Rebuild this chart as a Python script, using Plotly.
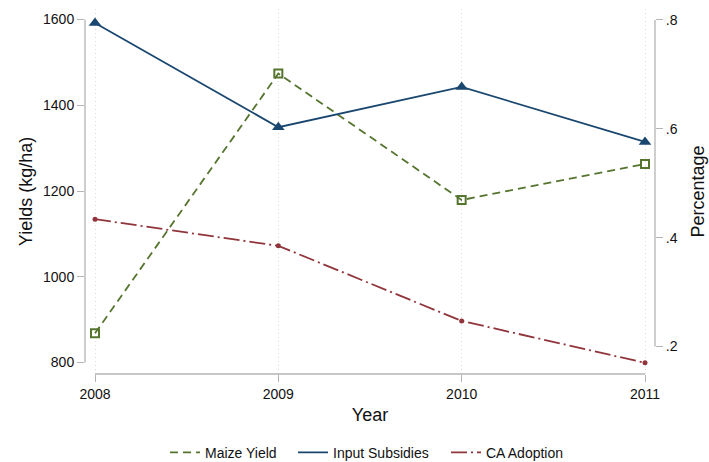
import plotly.graph_objects as go

years = [2008, 2009, 2010, 2011]
maize_yield = [868, 1474, 1179, 1263]          # kg/ha, left axis
input_subsidies = [0.7945, 0.603, 0.677, 0.576]  # share, right axis
ca_adoption = [0.434, 0.385, 0.247, 0.170]       # share, right axis

left_ticks = [800, 1000, 1200, 1400, 1600]
left_grid = [800, 1000, 1200, 1400]
right_ticks = [0.2, 0.4, 0.6, 0.8]
right_labels = [".2", ".4", ".6", ".8"]

NAVY = "#1a476f"
MAROON = "#90353b"
GREEN = "#55752f"
AXIS = "#b4b4b4"
GRID = "#d9d9d9"
FONT = "Liberation Sans, Arial, sans-serif"

fig = go.Figure()

# Maize yield (left axis)
fig.add_trace(go.Scatter(x=years, y=maize_yield, mode="lines", name="Maize Yield",
                         legend="legend",
                         line=dict(color=GREEN, width=1.8, dash="8px,5px"), yaxis="y"))
fig.add_trace(go.Scatter(x=years, y=maize_yield, mode="markers", showlegend=False,
                         marker=dict(symbol="square-open", size=8, color=GREEN,
                                     line=dict(width=2, color=GREEN)), yaxis="y"))
# Input subsidies (right axis)
fig.add_trace(go.Scatter(x=years, y=input_subsidies, mode="lines", name="Input Subsidies",
                         legend="legend2",
                         line=dict(color=NAVY, width=1.8), yaxis="y2"))
fig.add_trace(go.Scatter(x=years, y=input_subsidies, mode="markers", showlegend=False,
                         marker=dict(symbol="triangle-up", size=11, color=NAVY), yaxis="y2"))
# CA adoption (right axis)
fig.add_trace(go.Scatter(x=years, y=ca_adoption, mode="lines", name="CA Adoption",
                         legend="legend3",
                         line=dict(color=MAROON, width=1.8, dash="16px,4px,2px,4px"), yaxis="y2"))
fig.add_trace(go.Scatter(x=years, y=ca_adoption, mode="markers", showlegend=False,
                         marker=dict(symbol="circle", size=5, color=MAROON), yaxis="y2"))

x_rng = [2008 - 10 / 183.3, 2011 + 10 / 183.3]
y_rng = [773.2, 1624.5]
y2_rng = [0.1495, 0.8202]

leg_common = dict(orientation="h", xanchor="left", y=-0.216, yanchor="middle",
                  font=dict(size=14), bgcolor="rgba(0,0,0,0)")

fig.update_layout(
    width=709, height=462,
    margin=dict(l=85, r=54, t=9, b=88, autoexpand=False),
    paper_bgcolor="white", plot_bgcolor="white",
    font=dict(family=FONT, size=14, color="#111"),
    xaxis=dict(range=x_rng, tickvals=years, ticks="outside", ticklen=7, tickcolor=AXIS,
               tickwidth=1.3, showline=False, zeroline=False, automargin=False,
               showgrid=True, gridcolor=GRID, griddash="1px,3px", gridwidth=1,
               title=dict(text="Year", font=dict(size=18), standoff=7),
               tickfont=dict(size=14)),
    yaxis=dict(range=y_rng, tickvals=left_ticks, ticks="outside", ticklen=7, tickcolor=AXIS,
               tickwidth=1.3, showline=False, zeroline=False, showgrid=False, automargin=False,
               title=dict(text="Yields (kg/ha)", font=dict(size=18), standoff=5),
               tickfont=dict(size=14)),
    yaxis3=dict(range=y_rng, overlaying="y", tickvals=left_grid, showticklabels=False,
                ticks="", showgrid=True, gridcolor=GRID, griddash="1px,3px", gridwidth=1,
                zeroline=False, showline=False, automargin=False),
    yaxis2=dict(range=y2_rng, overlaying="y", side="right", tickvals=right_ticks,
                ticktext=right_labels, ticks="outside", ticklen=7, tickcolor=AXIS,
                tickwidth=1.3, showline=False, zeroline=False, showgrid=False, automargin=False,
                title=dict(text="Percentage", font=dict(size=18), standoff=14),
                tickfont=dict(size=14)),
    legend=dict(x=0.1404, **leg_common),
    legend2=dict(x=0.3649, **leg_common),
    legend3=dict(x=0.6333, **leg_common),
    shapes=[
        dict(type="line", xref="paper", yref="y", x0=0, x1=0, y0=800, y1=1600,
             line=dict(color=AXIS, width=1.3)),
        dict(type="line", xref="paper", yref="y2", x0=1, x1=1, y0=0.2, y1=0.8,
             line=dict(color=AXIS, width=1.3)),
        dict(type="line", xref="x", yref="paper", x0=2008, x1=2011, y0=0, y1=0,
             line=dict(color=AXIS, width=1.3)),
    ],
)

fig.write_html("out.html", config={"displayModeBar": False},
               post_script="document.body.style.margin='0';")
